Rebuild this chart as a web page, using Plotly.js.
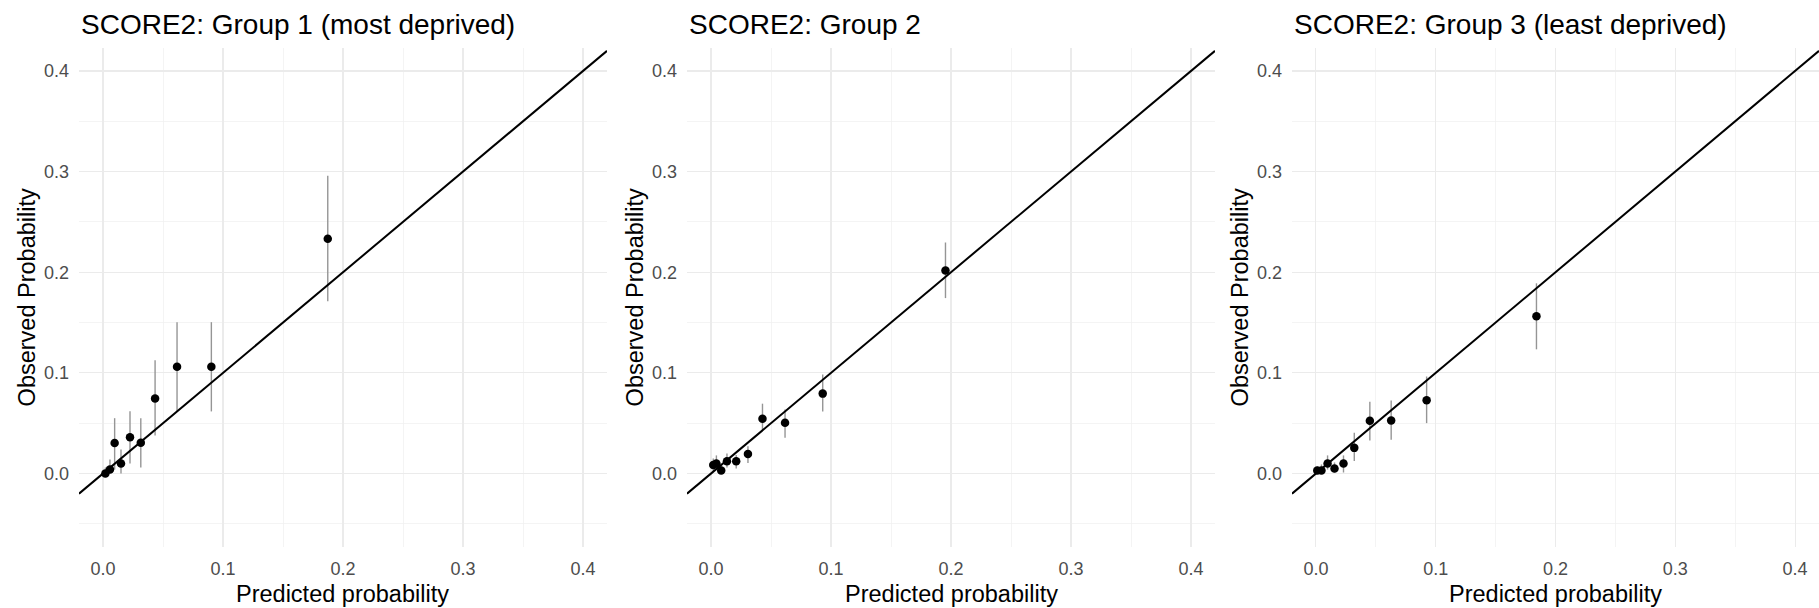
<!DOCTYPE html>
<html>
<head>
<meta charset="utf-8">
<script src="https://cdn.plot.ly/plotly-3.0.1.min.js"></script>
<style>html,body{margin:0;padding:0;background:#fff;}#chart{width:1819px;height:608px;}</style>
</head>
<body>
<div id="chart"></div>
<script>
// ---- data ----
const panelTitles = ["SCORE2: Group 1 (most deprived)", "SCORE2: Group 2", "SCORE2: Group 3 (least deprived)"];
const xTitle = "Predicted probability";
const yTitle = "Observed Probability";
const tickVals = [0, 0.1, 0.2, 0.3, 0.4];
const tickText = ["0.0", "0.1", "0.2", "0.3", "0.4"];

const pred1 = [0.0020, 0.0058, 0.0097, 0.0150, 0.0225, 0.0315, 0.0434, 0.0617, 0.0903, 0.1873];
const obs1  = [0.0000, 0.0040, 0.0304, 0.0100, 0.0360, 0.0306, 0.0745, 0.1060, 0.1060, 0.2333];
const lo1   = [0.0000, 0.0000, 0.0040, 0.0000, 0.0100, 0.0060, 0.0378, 0.0613, 0.0617, 0.1712];
const hi1   = [0.0060, 0.0140, 0.0550, 0.0240, 0.0620, 0.0550, 0.1126, 0.1504, 0.1504, 0.2958];

const pred2 = [0.0019, 0.0045, 0.0085, 0.0133, 0.0210, 0.0308, 0.0429, 0.0617, 0.0931, 0.1954];
const obs2  = [0.0085, 0.0100, 0.0030, 0.0122, 0.0122, 0.0195, 0.0544, 0.0505, 0.0794, 0.2017];
const lo2   = [0.0020, 0.0040, 0.0000, 0.0060, 0.0050, 0.0104, 0.0424, 0.0355, 0.0617, 0.1743];
const hi2   = [0.0150, 0.0180, 0.0080, 0.0200, 0.0185, 0.0270, 0.0694, 0.0636, 0.0983, 0.2295];

const pred3 = [0.0011, 0.0046, 0.0097, 0.0155, 0.0230, 0.0320, 0.0450, 0.0628, 0.0924, 0.1841];
const obs3  = [0.0030, 0.0030, 0.0100, 0.0050, 0.0100, 0.0255, 0.0524, 0.0528, 0.0729, 0.1562];
const lo3   = [0.0000, 0.0000, 0.0040, 0.0010, 0.0010, 0.0125, 0.0328, 0.0336, 0.0501, 0.1234];
const hi3   = [0.0070, 0.0090, 0.0180, 0.0110, 0.0180, 0.0405, 0.0713, 0.0725, 0.0964, 0.1890];

// ---- layout geometry ----
const W = 1819, H = 608;
const xRange = [-0.02, 0.42];
const yRange = [-0.0725, 0.4225];
const panelPx = [[79, 607], [687, 1215], [1292, 1819]];
const plotTop = 48.3, plotBottom = 546.5;
const FONT = "Liberation Sans, Arial, Helvetica, sans-serif";

const panels = [
  {pred: pred1, obs: obs1, lo: lo1, hi: hi1},
  {pred: pred2, obs: obs2, lo: lo2, hi: hi2},
  {pred: pred3, obs: obs3, lo: lo3, hi: hi3}
];

const traces = [];
const layout = {
  width: W, height: H,
  margin: {l: 0, r: 0, t: 0, b: 0},
  paper_bgcolor: "#ffffff",
  plot_bgcolor: "#ffffff",
  showlegend: false,
  font: {family: FONT},
  annotations: []
};

panels.forEach((p, i) => {
  const n = i === 0 ? "" : String(i + 1);
  const xa = "x" + n, ya = "y" + n;
  // error bars (gray, no caps)
  traces.push({
    type: "scatter", mode: "markers", x: p.pred, y: p.obs, xaxis: xa, yaxis: ya,
    marker: {size: 0.1, color: "rgba(0,0,0,0)"},
    error_y: {
      type: "data", symmetric: false,
      array: p.hi.map((h, k) => h - p.obs[k]),
      arrayminus: p.obs.map((o, k) => o - p.lo[k]),
      color: "#959595", thickness: 1.4, width: 0
    },
    hoverinfo: "skip"
  });
  // identity line across the panel
  traces.push({
    type: "scatter", mode: "lines", x: xRange, y: xRange, xaxis: xa, yaxis: ya,
    line: {color: "#000000", width: 2}, hoverinfo: "skip"
  });
  // points
  traces.push({
    type: "scatter", mode: "markers", x: p.pred, y: p.obs, xaxis: xa, yaxis: ya,
    marker: {size: 8.5, color: "#000000"}
  });

  const common = {
    showgrid: true, gridcolor: "#EBEBEB", gridwidth: 1.1,
    zeroline: false, showline: false, ticks: "",
    tickfont: {family: FONT, size: 18, color: "#4D4D4D"},
    fixedrange: true
  };
  layout["xaxis" + n] = Object.assign({}, common, {
    domain: [panelPx[i][0] / W, panelPx[i][1] / W],
    range: xRange, anchor: ya,
    tickvals: tickVals, ticktext: tickText,
    ticklabelstandoff: 9,
    minor: {tickvals: [0.05, 0.15, 0.25, 0.35], showgrid: true, gridcolor: "#EFEFEF", gridwidth: 0.7}
  });
  layout["yaxis" + n] = Object.assign({}, common, {
    domain: [1 - plotBottom / H, 1 - plotTop / H],
    range: yRange, anchor: xa,
    tickvals: tickVals, ticktext: tickText,
    ticklabelstandoff: 9,
    minor: {tickvals: [-0.05, 0.05, 0.15, 0.25, 0.35], showgrid: true, gridcolor: "#EFEFEF", gridwidth: 0.7}
  });

  // panel title
  layout.annotations.push({
    text: panelTitles[i], xref: xa + " domain", x: 0, xanchor: "left",
    yref: "paper", y: 1 - 24 / H, yanchor: "middle", showarrow: false,
    font: {family: FONT, size: 28, color: "#000000"}
  });
  // x axis title
  layout.annotations.push({
    text: xTitle, xref: xa + " domain", x: 0.5, xanchor: "center",
    yref: "paper", y: 1 - 594 / H, yanchor: "middle", showarrow: false,
    font: {family: FONT, size: 23.5, color: "#000000"}
  });
  // y axis title
  layout.annotations.push({
    text: yTitle, xref: "paper", x: (panelPx[i][0] - 52) / W, xanchor: "center",
    yref: ya + " domain", y: 0.5, yanchor: "middle", textangle: -90, showarrow: false,
    font: {family: FONT, size: 23.5, color: "#000000"}
  });
});

Plotly.newPlot("chart", traces, layout, {displayModeBar: false, staticPlot: true});
</script>
</body>
</html>
